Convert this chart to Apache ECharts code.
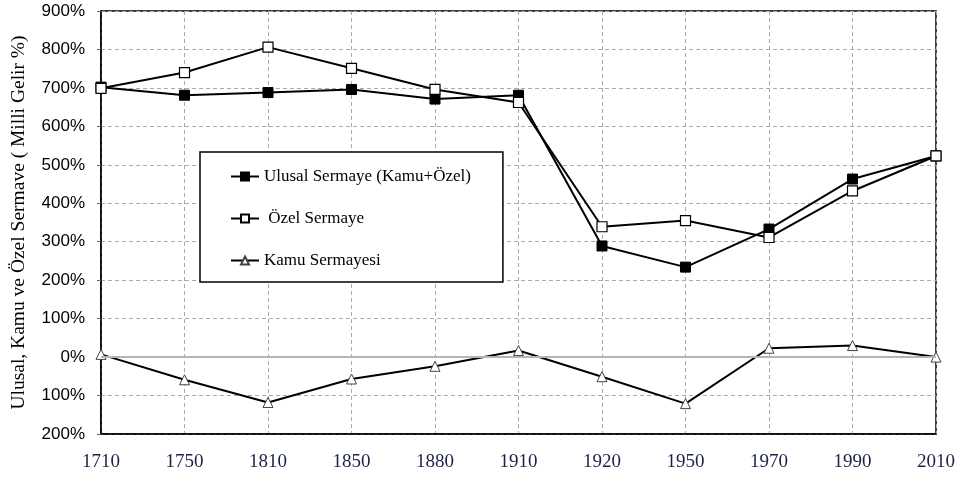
<!DOCTYPE html>
<html>
<head>
<meta charset="utf-8">
<script src="https://cdn.jsdelivr.net/npm/echarts@6/dist/echarts.min.js"></script>
<style>
  html, body { margin: 0; padding: 0; background: #fff; }
  #chart { width: 958px; height: 478px; }
</style>
</head>
<body>
<div id="chart"></div>
<script>
const years = ['1710', '1750', '1810', '1850', '1880', '1910', '1920', '1950', '1970', '1990', '2010'];
const ulusal = [702, 681, 688, 696, 671, 681, 289, 234, 333, 463, 523];
const ozel = [699, 740, 806, 751, 696, 662, 339, 355, 311, 432, 523];
const kamu = [7, -59, -118, -57, -24, 17, -51, -121, 23, 30, 0];

const chart = echarts.init(document.getElementById('chart'));

const lineStyle = { color: '#000', width: 2 };

const option = {
  animation: false,
  backgroundColor: '#fff',
  grid: {
    left: 101, right: 21, top: 11, bottom: 44,
    show: true, borderColor: '#000', borderWidth: 1.5
  },
  legend: {
    orient: 'vertical',
    left: 200, top: 152,
    padding: [16, 32, 13, 30],
    itemGap: 25,
    itemWidth: 28, itemHeight: 10,
    backgroundColor: '#fff',
    borderColor: '#000', borderWidth: 1.5,
    textStyle: { fontFamily: 'Liberation Serif', fontSize: 17, color: '#000' },
    data: ['Ulusal Sermaye (Kamu+Özel)', ' Özel Sermaye', 'Kamu Sermayesi']
  },
  xAxis: {
    type: 'category',
    data: years,
    boundaryGap: false,
    axisLine: { onZero: false, lineStyle: { color: '#000', width: 1.5 } },
    axisTick: { show: false },
    axisLabel: { margin: 19, fontFamily: 'Liberation Serif', fontSize: 19, color: '#1c2148' },
    splitLine: { show: true, lineStyle: { color: '#aaa', type: [4, 3], width: 1 } }
  },
  yAxis: {
    type: 'value',
    min: -200, max: 900, interval: 100,
    name: 'Ulusal, Kamu ve Özel Sermave ( Milli Gelir %)',
    nameLocation: 'middle',
    nameGap: 72,
    nameTextStyle: { fontFamily: 'Liberation Serif', fontSize: 19.5, color: '#000' },
    axisLine: { show: true, lineStyle: { color: '#000', width: 1.5 } },
    axisTick: { show: true, length: 4, lineStyle: { color: '#666' } },
    axisLabel: {
      margin: 16, fontFamily: 'Liberation Sans', fontSize: 17, color: '#000',
      formatter: v => Math.abs(v) + '%'
    },
    splitLine: { show: true, lineStyle: { color: '#aaa', type: [4, 3], width: 1 } }
  },
  series: [
    {
      name: 'Ulusal Sermaye (Kamu+Özel)',
      type: 'line',
      data: ulusal,
      symbol: 'rect', symbolSize: 10,
      lineStyle: lineStyle,
      itemStyle: { color: '#000', borderColor: '#000', borderWidth: 1 },
      z: 3
    },
    {
      name: ' Özel Sermaye',
      type: 'line',
      data: ozel,
      symbol: 'rect', symbolSize: 10,
      lineStyle: lineStyle,
      itemStyle: { color: '#fff', borderColor: '#000', borderWidth: 1.2 },
      z: 4
    },
    {
      name: 'Kamu Sermayesi',
      type: 'line',
      data: kamu,
      symbol: 'triangle', symbolSize: 10,
      lineStyle: lineStyle,
      itemStyle: { color: '#fff', borderColor: '#444', borderWidth: 1 },
      markLine: {
        silent: true, symbol: 'none', label: { show: false },
        lineStyle: { color: '#b5b5b5', type: 'solid', width: 2 },
        data: [{ yAxis: 0 }]
      },
      z: 3
    }
  ]
};

chart.setOption(option);
</script>
</body>
</html>
